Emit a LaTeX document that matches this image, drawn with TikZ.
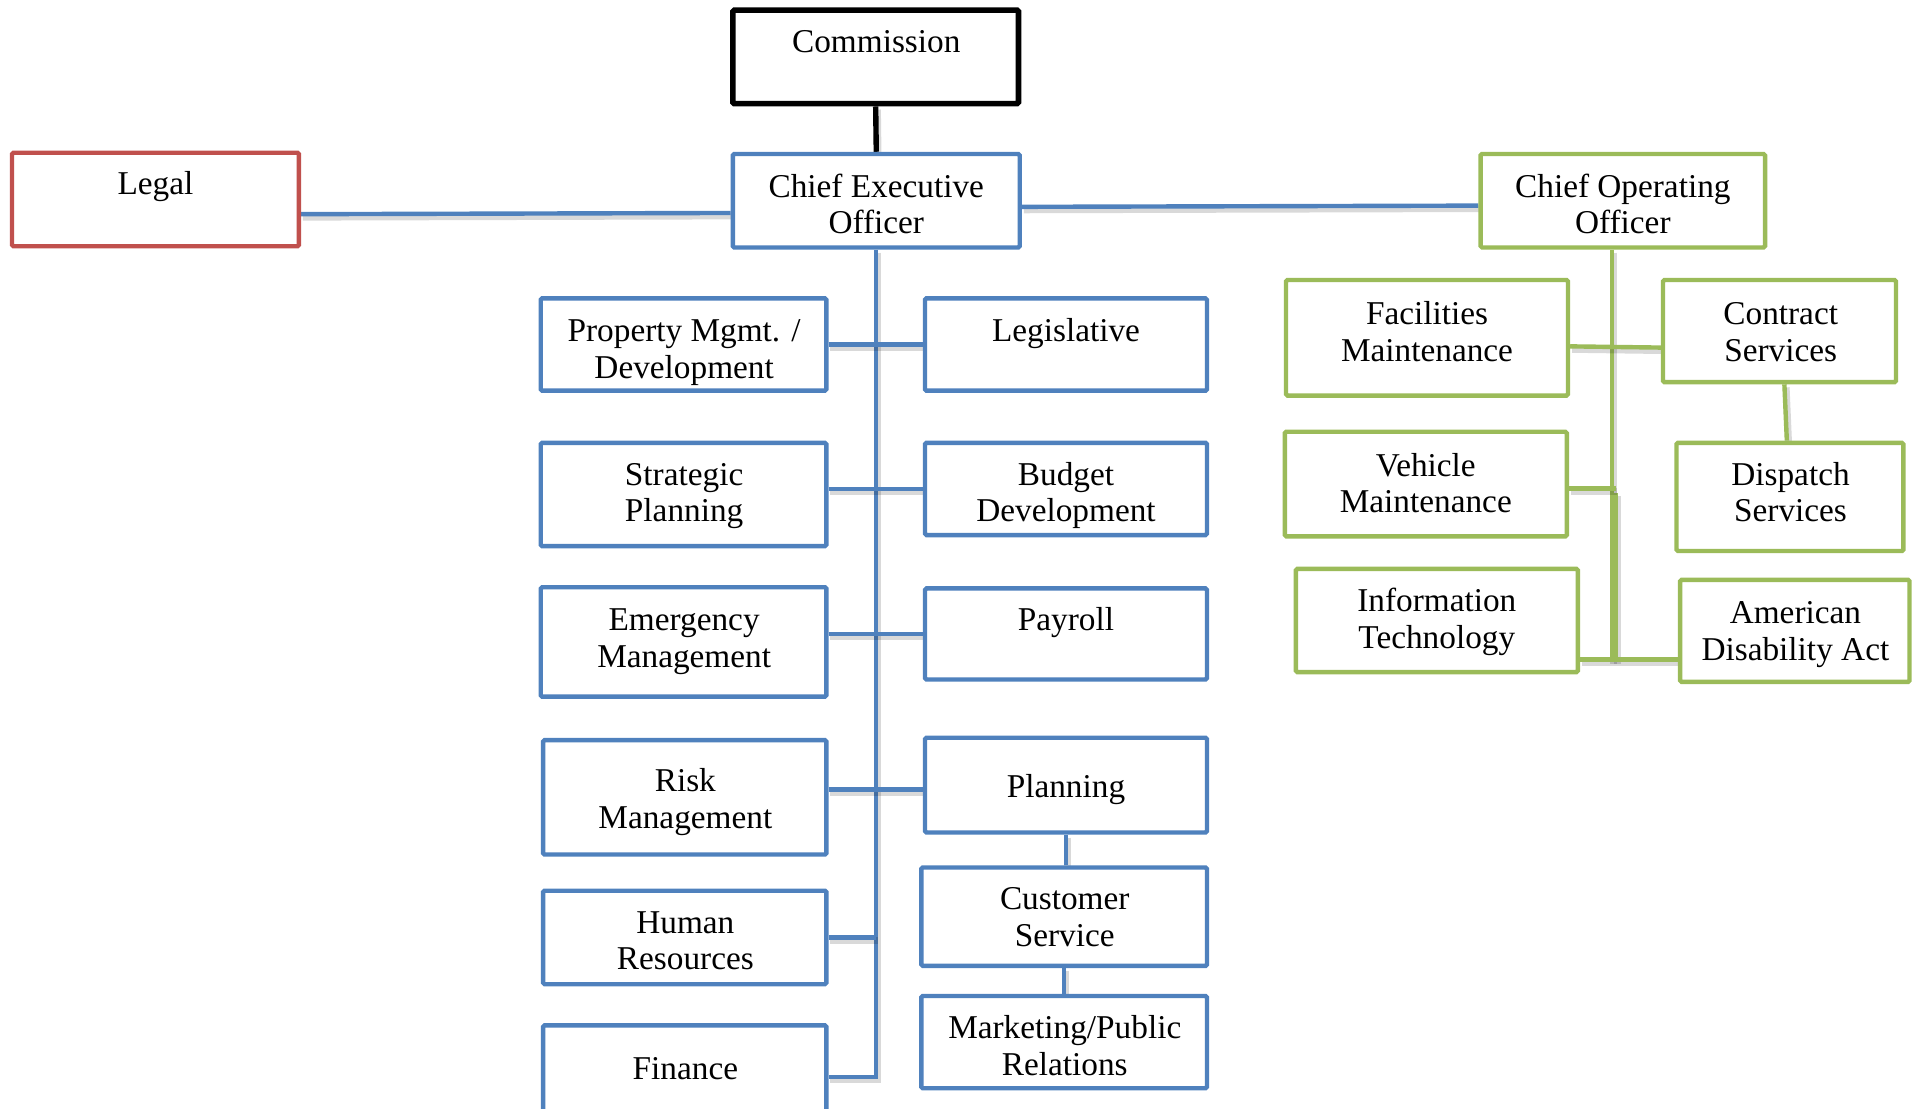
\documentclass[tikz,border=0pt]{standalone}
\usepackage{fontspec}
\setmainfont{Liberation Serif}
\usetikzlibrary{calc,backgrounds}
\definecolor{ofBlue}{HTML}{4F81BD}
\definecolor{ofRed}{HTML}{C0504D}
\definecolor{ofGreen}{HTML}{9BBB59}
\begin{document}
\begin{tikzpicture}[x=1pt,y=-1pt,
  box/.style={draw, line width=3.6pt, rounded corners=1.2pt, fill=white,
    anchor=north west, inner sep=0pt, xshift=-1pt, yshift=1pt},
  % outer size of a box, border included
  sz/.style 2 args={minimum width={#1-3.6pt}, minimum height={#2-3.6pt}},
  bluebox/.style={box, draw=ofBlue},
  greenbox/.style={box, draw=ofGreen},
  redbox/.style={box, draw=ofRed},
  blackbox/.style={box, draw=black, line width=4.6pt},
  lbl/.style={align=center, inner sep=0pt, text=black,
    font=\fontsize{27.2}{30}\selectfont},
  shadowed/.style={preaction={draw=black, opacity=0.15, line width=5.5pt,
    transform canvas={shift={(1.5,2.5)}}}},
  link/.style={shadowed, line width=3.6pt},
  bluelink/.style={link, draw=ofBlue},
  greenlink/.style={link, draw=ofGreen},
  blacklink/.style={link, draw=black, line width=4.4pt},
]
\useasboundingbox (0,0) rectangle (1568,906);
\clip (0,0) rectangle (1568,906);

% junction points of the connectors
\coordinate (legalJ) at (246,175);
\coordinate (ceoLJ) at (598,174);
\coordinate (ceoRJ) at (834,169);
\coordinate (cooLJ) at (1209,168);
\coordinate (trunkTop) at (716,204);
\coordinate (trunkBot) at (716,880);
\coordinate (gTop) at (1317,204);
\coordinate (gBot) at (1317,540);
\coordinate (gMid) at (1320,403);
\coordinate (gMidBot) at (1320,540);

% ---------- top boxes ----------
\node[blackbox, minimum width=233.4, minimum height=76.4] (comm) at (597.5,7) {};
\node[bluebox, sz={238}{80}] (ceo) at (598,125) {};
\node[redbox, sz={238}{80}] (legal) at (9,124) {};
\node[greenbox, sz={236}{80}] (coo) at (1209,125) {};

% ---------- CEO departments ----------
\node[bluebox, sz={237}{79}] (prop) at (441,243) {};
\node[bluebox, sz={234}{79}] (legis) at (755,243) {};
\node[bluebox, sz={237}{88}] (strat) at (441,361) {};
\node[bluebox, sz={234}{79}] (budget) at (755,361) {};
\node[bluebox, sz={237}{93}] (emerg) at (441,479) {};
\node[bluebox, sz={234}{78}] (payroll) at (755,480) {};
\node[bluebox, sz={235}{97}] (risk) at (443,604) {};
\node[bluebox, sz={234}{81}] (plan) at (755,602) {};
\node[bluebox, sz={235}{80}] (hr) at (443,727) {};
\node[bluebox, sz={237}{84}] (cust) at (752,708) {};
\node[bluebox, sz={235}{90}] (fin) at (443,837) {};
\node[bluebox, sz={237}{79}] (mkt) at (752,813) {};

% ---------- COO departments ----------
\node[greenbox, sz={234}{98}] (fac) at (1050,228) {};
\node[greenbox, sz={194}{87}] (contract) at (1358,228) {};
\node[greenbox, sz={234}{89}] (veh) at (1049,352) {};
\node[greenbox, sz={189}{92}] (disp) at (1369,361) {};
\node[greenbox, sz={234}{88}] (it) at (1058,464) {};
\node[greenbox, sz={191}{87}] (ada) at (1372,473) {};

% ---------- connector lines, beneath the boxes ----------
\begin{scope}[on background layer]
\draw[blacklink] (comm.south) -- (ceo.north);
\draw[bluelink] (legal.east |- legalJ) -- (ceo.west |- ceoLJ);
\draw[bluelink] (ceo.east |- ceoRJ) -- (coo.west |- cooLJ);
\draw[bluelink] (ceo.south) -- (ceo.south |- trunkBot) -- (fin.east |- trunkBot);
\draw[bluelink] (prop.east) -- (legis.west);
\draw[bluelink] (strat.east |- budget.west) -- (budget.west);
\draw[bluelink] (emerg.east |- payroll.west) -- (payroll.west);
\draw[bluelink] (risk.east |- 0,645) -- (plan.west |- 0,645);
\draw[bluelink] (hr.east) -- (hr.east -| trunkTop);
\draw[bluelink] (plan.south) -- (plan.south |- cust.north);
\draw[bluelink] (cust.south) -- (cust.south |- mkt.north);

\draw[greenlink] (gTop) -- (gBot);
\draw[greenlink] (gMid) -- (gMidBot);
\draw[greenlink] (fac.east |- 0,283) -- (contract.west |- 0,284);
\draw[greenlink] (veh.east |- 0,399) -- (gMid |- 0,399);
\draw[greenlink] (it.east |- 0,539) -- (ada.west |- 0,539);
\draw[greenlink] (contract.south -| 1458,0) -- (disp.north -| 1460,0);
\end{scope}

% ---------- labels ----------
\node[lbl] (comm-t) at (716,37) {Commission\strut};
\node[lbl] (ceo-t) at (716,170) {Chief Executive\strut\\Officer\strut};
\node[lbl] (legal-t) at (127,153) {Legal\strut};
\node[lbl] (coo-t) at (1326,170) {Chief Operating\strut\\Officer\strut};

\node[lbl] (prop-t) at (559,288) {Property Mgmt. /\strut\\Development\strut};
\node[lbl] (legis-t) at (871,273) {Legislative\strut};
\node[lbl] (strat-t) at (559,405.5) {Strategic\strut\\Planning\strut};
\node[lbl] (budget-t) at (871,405.5) {Budget\strut\\Development\strut};
\node[lbl] (emerg-t) at (559,524) {Emergency\strut\\Management\strut};
\node[lbl] (payroll-t) at (871,509) {Payroll\strut};
\node[lbl] (risk-t) at (560,656) {Risk\strut\\Management\strut};
\node[lbl] (plan-t) at (871,646) {Planning\strut};
\node[lbl] (hr-t) at (560,771.5) {Human\strut\\Resources\strut};
\node[lbl] (cust-t) at (870,752.5) {Customer\strut\\Service\strut};
\node[lbl] (fin-t) at (560,876) {Finance\strut};
\node[lbl] (mkt-t) at (870,857.5) {Marketing/Public\strut\\Relations\strut};

\node[lbl] (fac-t) at (1166,274) {Facilities\strut\\Maintenance\strut};
\node[lbl] (contract-t) at (1455,274) {Contract\strut\\Services\strut};
\node[lbl] (veh-t) at (1165,398) {Vehicle\strut\\Maintenance\strut};
\node[lbl] (disp-t) at (1463,405.5) {Dispatch\strut\\Services\strut};
\node[lbl] (it-t) at (1174,509) {Information\strut\\Technology\strut};
\node[lbl] (ada-t) at (1467,518.5) {American\strut\\Disability Act\strut};
\end{tikzpicture}
\end{document}
